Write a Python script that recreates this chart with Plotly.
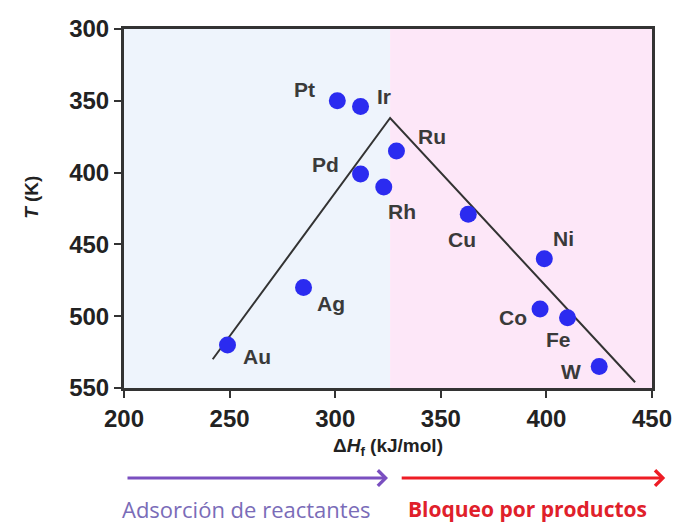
import plotly.graph_objects as go

metals = ["Pt", "Ir", "Ru", "Pd", "Rh", "Cu", "Ni", "Ag", "Co", "Fe", "W", "Au"]
dH = [301, 312, 329, 312, 323, 363, 399, 285, 397, 410, 425, 249]
T = [350, 354, 385, 401, 410, 429, 460, 480, 495, 501, 535, 520]

# volcano lines
volcano_x = [242, 326, 442]
volcano_y = [530, 362, 546]

# label offsets (pixels)
label_dx = [-33, 23, 36, -35, 18, -6, 19, 27, -27, -9, -28, 30]
label_dy = [11, 10, 15, 10, -25, -25, 20, -16, -8, -22, -5, -12]

x_ticks = [200, 250, 300, 350, 400, 450]
y_ticks = [300, 350, 400, 450, 500, 550]

region_split = 326

fig = go.Figure()

fig.add_shape(type="rect", xref="x", yref="paper", x0=200, x1=region_split, y0=0, y1=1,
              fillcolor="#eef4fc", line_width=0, layer="below")
fig.add_shape(type="rect", xref="x", yref="paper", x0=region_split, x1=450, y0=0, y1=1,
              fillcolor="#fde7f8", line_width=0, layer="below")

fig.add_trace(go.Scatter(x=volcano_x, y=volcano_y, mode="lines",
                         line=dict(color="#333333", width=2), hoverinfo="skip"))
fig.add_trace(go.Scatter(x=dH, y=T, mode="markers",
                         marker=dict(color="#2b2bf0", size=17), hoverinfo="text", text=metals))

for m, x, y, dx, dy in zip(metals, dH, T, label_dx, label_dy):
    fig.add_annotation(x=x, y=y, text="<b>%s</b>" % m, showarrow=False,
                       xshift=dx, yshift=dy,
                       font=dict(family="Arial", size=21, color="#3a3a3a"))

# axis titles
fig.add_annotation(xref="paper", yref="paper", x=0.5, y=-0.164, xanchor="center",
                   yanchor="middle", showarrow=False,
                   text="<b>Δ<i>H</i><sub>f</sub> (kJ/mol)</b>",
                   font=dict(family="Arial", size=19, color="#222"))
fig.add_annotation(xref="paper", yref="paper", x=-0.174, y=0.53, xanchor="center",
                   yanchor="middle", showarrow=False, textangle=-90,
                   text="<b><i>T</i> (K)</b>",
                   font=dict(family="Arial", size=19, color="#222"))

# arrows
fig.add_annotation(xref="paper", yref="paper", x=0.5, y=-0.251, ax=-262, ay=0,
                   text="", showarrow=True, arrowhead=4, arrowsize=1, arrowwidth=3,
                   arrowcolor="#7a4fc0")
fig.add_annotation(xref="paper", yref="paper", x=1.025, y=-0.251, ax=-265, ay=0,
                   text="", showarrow=True, arrowhead=4, arrowsize=1, arrowwidth=3,
                   arrowcolor="#ee1c25")
fig.add_annotation(xref="paper", yref="paper", x=0.232, y=-0.338, xanchor="center",
                   yanchor="middle", text="Adsorción de reactantes",
                   showarrow=False, font=dict(family="Open Sans", size=22, color="#7a6cb8"))
fig.add_annotation(xref="paper", yref="paper", x=0.765, y=-0.338, xanchor="center",
                   yanchor="middle", text="<b>Bloqueo por productos</b>",
                   showarrow=False, font=dict(family="Open Sans", size=21, color="#e0202a"))

axis_font = dict(family="Arial", size=24, color="#222222")
fig.update_layout(
    width=677, height=524,
    margin=dict(l=124, r=25, t=29, b=136, autoexpand=False),
    paper_bgcolor="white", plot_bgcolor="white",
    showlegend=False,
    xaxis=dict(range=[200, 450], tickvals=x_ticks,
               ticktext=["<b>%d</b>" % v for v in x_ticks],
               ticks="outside", ticklen=7, tickwidth=2, tickcolor="#333",
               showline=True, linewidth=3, linecolor="#333", mirror=True,
               showgrid=False, zeroline=False, tickfont=axis_font, automargin=False),
    yaxis=dict(range=[550, 300], tickvals=y_ticks,
               ticktext=["<b>%d</b>" % v for v in y_ticks],
               ticks="outside", ticklen=7, tickwidth=2, tickcolor="#333",
               showline=True, linewidth=3, linecolor="#333", mirror=True,
               showgrid=False, zeroline=False, tickfont=axis_font, automargin=False),
)

fig.write_html("out.html")
